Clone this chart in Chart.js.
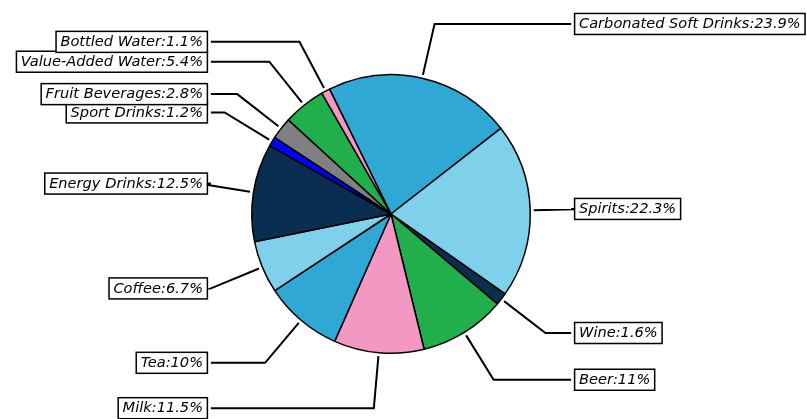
<!DOCTYPE html>
<html>
<head>
<meta charset="utf-8">
<script src="https://cdn.jsdelivr.net/npm/chart.js@4"></script>
<style>
  html, body { margin: 0; padding: 0; background: #fff; }
  #wrap { width: 807px; height: 419px; }
</style>
</head>
<body>
<div id="wrap"><canvas id="pie" width="807" height="419"></canvas></div>
<script>
// beverage market share, clockwise from the top
const categories = [
    'Carbonated Soft Drinks', 'Spirits', 'Wine', 'Beer', 'Milk', 'Tea',
    'Coffee', 'Energy Drinks', 'Sport Drinks', 'Fruit Beverages',
    'Value-Added Water', 'Bottled Water'
];
const shares = [23.9, 22.3, 1.6, 11, 11.5, 10, 6.7, 12.5, 1.2, 2.8, 5.4, 1.1];
const sliceColors = [
    '#2fa8d6', '#7fd0ea', '#0a2e50', '#21af4b', '#f298c2', '#2fa8d6',
    '#7fd0ea', '#0a2e50', '#0000ff', '#808080', '#21af4b', '#f298c2'
];

const FONT_SIZE = 14.6;
const LABEL_FONT = `italic ${FONT_SIZE}px "DejaVu Sans", sans-serif`;

// boxed labels with elbow leader lines
const calloutPlugin = {
    id: 'callouts',
    afterDraw(chart) {
        const ctx = chart.ctx;
        const arcs = chart.getDatasetMeta(0).data;
        ctx.save();
        ctx.font = LABEL_FONT;
        ctx.textBaseline = 'middle';
        arcs.forEach((arc, i) => {
            const { x: cx, y: cy, outerRadius: r, startAngle, endAngle } = arc.getProps(
                ['x', 'y', 'outerRadius', 'startAngle', 'endAngle'], true);
            const mid = (startAngle + endAngle) / 2;
            const ux = Math.cos(mid), uy = Math.sin(mid);
            const side = ux >= 0 ? 1 : -1;
            const text = `${categories[i]}:${shares[i]}%`;

            const tx = cx + 1.35 * r * side;
            const ty = cy + 1.4 * r * uy;
            const tw = ctx.measureText(text).width;
            const pad = 0.3 * FONT_SIZE;
            const boxX = side > 0 ? tx - pad : tx - tw - pad;
            const boxW = tw + 2 * pad;
            const boxH = 21;

            // leader: edge -> elbow on the ray -> box
            const gap = 3.5;
            const sx = cx + (r + gap) * ux, sy = cy + (r + gap) * uy;
            const ex = cx + 1.4 * r * ux, ey = cy + 1.4 * r * uy;
            const endX = side > 0 ? boxX - gap : boxX + boxW + gap;
            ctx.strokeStyle = '#000';
            ctx.lineWidth = 2;
            ctx.beginPath();
            ctx.moveTo(sx, sy);
            ctx.lineTo(ex, ey);
            ctx.lineTo(endX, ty);
            ctx.stroke();

            ctx.fillStyle = '#fff';
            ctx.fillRect(boxX, ty - boxH / 2, boxW, boxH);
            ctx.lineWidth = 1.5;
            ctx.strokeRect(boxX, ty - boxH / 2, boxW, boxH);

            ctx.fillStyle = '#000';
            ctx.textAlign = side > 0 ? 'left' : 'right';
            ctx.fillText(text, tx, ty + 0.5);
        });
        ctx.restore();
    }
};

new Chart(document.getElementById('pie'), {
    type: 'pie',
    data: {
        labels: categories,
        datasets: [{
            data: shares,
            backgroundColor: sliceColors,
            borderColor: '#000',
            borderWidth: 1.5
        }]
    },
    options: {
        responsive: false,
        animation: false,
        rotation: -26.2,
        layout: { padding: { left: 251, right: 276, top: 74, bottom: 65 } },
        plugins: {
            legend: { display: false },
            tooltip: { enabled: false }
        }
    },
    plugins: [calloutPlugin]
});
</script>
</body>
</html>
